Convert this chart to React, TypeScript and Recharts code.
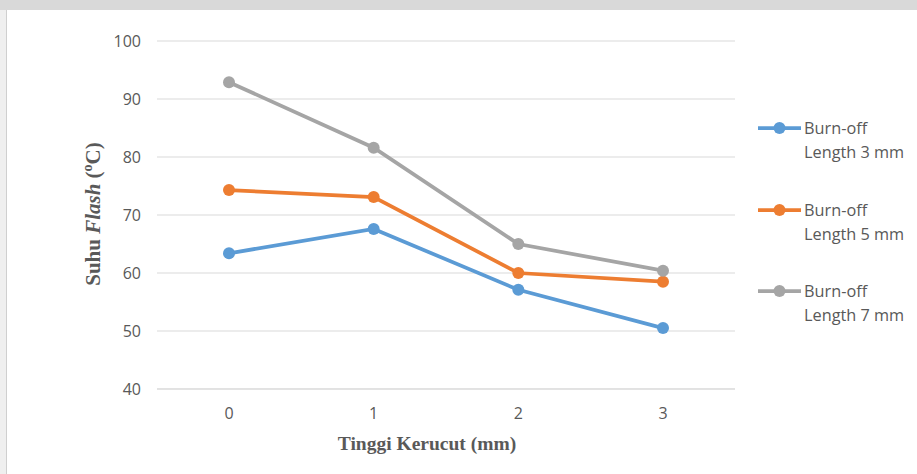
import React from "react";
import { LineChart, Line, XAxis, YAxis, CartesianGrid } from "recharts";

// Cone height (mm) on the x axis
const categories = ["0", "1", "2", "3"];

// Flash temperature (°C) for each burn-off length
const burnOff3 = [63.4, 67.6, 57.1, 50.5];
const burnOff5 = [74.3, 73.1, 60.0, 58.5];
const burnOff7 = [92.9, 81.6, 65.0, 60.4];

const yTicks = [40, 50, 60, 70, 80, 90, 100];

const seriesKeys = ["s3", "s5", "s7"];
const seriesNames = ["Burn-off Length 3 mm", "Burn-off Length 5 mm", "Burn-off Length 7 mm"];
const seriesColors = ["#5B9BD5", "#ED7D31", "#A5A5A5"];

const data = categories.map((c, i) => ({
  x: c,
  s3: burnOff3[i],
  s5: burnOff5[i],
  s7: burnOff7[i],
}));

const TICK_FONT = "'Open Sans', 'Noto Sans', sans-serif";
const TITLE_FONT = "'Liberation Serif', 'Times New Roman', serif";

const YTitle = () => {
  const cx = 100;
  const cy = 214;
  return (
    <text
      x={cx}
      y={cy}
      transform={`rotate(-90 ${cx} ${cy})`}
      textAnchor="middle"
      fill="#595959"
      fontFamily={TITLE_FONT}
      fontWeight="bold"
      fontSize={21}
    >
      <tspan>Suhu </tspan>
      <tspan fontStyle="italic">Flash</tspan>
      <tspan> (</tspan>
      <tspan fontSize={14} dy={-8}>o</tspan>
      <tspan dy={8}>C)</tspan>
    </text>
  );
};

const XTitle = () => (
  <text
    x={427}
    y={450}
    textAnchor="middle"
    fill="#595959"
    fontFamily={TITLE_FONT}
    fontWeight="bold"
    fontSize={19.5}
  >
    Tinggi Kerucut (mm)
  </text>
);

const LegendBox = () => (
  <div style={{ position: "absolute", left: 757, top: 116, width: 160, height: 260 }}>
    {seriesNames.map((name, i) => {
      const words = name.split(" ");
      const first = words[0];
      const rest = words.slice(1).join(" ");
      const color = seriesColors[i];
      return (
        <div
          key={name}
          style={{ position: "absolute", left: 0, top: i * 81.5, height: 50, width: 160 }}
        >
          <svg width={46} height={24} style={{ position: "absolute", left: 0, top: 0 }}>
            <line x1={1} y1={12} x2={44} y2={12} stroke={color} strokeWidth={3.75} />
            <circle cx={22.5} cy={12} r={6} fill={color} />
          </svg>
          <div
            style={{
              position: "absolute",
              left: 47,
              top: 0,
              lineHeight: "24px",
              fontSize: 16.3,
              color: "#595959",
              fontFamily: TICK_FONT,
              whiteSpace: "nowrap",
              textAlign: "left",
            }}
          >
            <div>{first}</div>
            <div>{rest}</div>
          </div>
        </div>
      );
    })}
  </div>
);

export default function App() {
  return (
    <div
      style={{
        position: "absolute",
        left: 0,
        top: 0,
        width: 917,
        height: 474,
        background: "#ffffff",
        overflow: "hidden",
      }}
    >
      {/* page frame */}
      <div style={{ position: "absolute", left: 0, top: 0, width: 917, height: 10, background: "#d9d9d9" }} />
      <div style={{ position: "absolute", left: 0, top: 10, width: 6, height: 464, background: "#efefef" }} />
      <div style={{ position: "absolute", left: 6, top: 10, width: 1, height: 464, background: "#cfcfcf" }} />
      <div style={{ position: "absolute", left: 0, top: 0 }}>
        <LineChart
          width={917}
          height={474}
          data={data}
          margin={{ top: 41, right: 182, bottom: 55, left: 0 }}
        >
          <CartesianGrid vertical={false} stroke="#d9d9d9" strokeWidth={1} />
          <XAxis
            dataKey="x"
            padding={{ left: 72, right: 72 }}
            axisLine={{ stroke: "#d9d9d9" }}
            tickLine={false}
            tickSize={0}
            tickMargin={19}
            height={30}
            tick={{ fill: "#595959", fontSize: 16, fontFamily: TICK_FONT }}
          />
          <YAxis
            domain={[40, 100]}
            ticks={yTicks}
            width={157}
            axisLine={false}
            tickLine={false}
            tickSize={0}
            tickMargin={16}
            interval={0}
            tick={{ fill: "#595959", fontSize: 16, fontFamily: TICK_FONT }}
          />
          {seriesKeys.map((k, i) => (
            <Line
              key={k}
              dataKey={k}
              name={seriesNames[i]}
              stroke={seriesColors[i]}
              strokeWidth={3.75}
              dot={{ r: 6, fill: seriesColors[i], stroke: seriesColors[i], strokeWidth: 0 }}
              activeDot={false}
              isAnimationActive={false}
            />
          ))}
          <YTitle />
          <XTitle />
        </LineChart>
      </div>
      <LegendBox />
    </div>
  );
}
